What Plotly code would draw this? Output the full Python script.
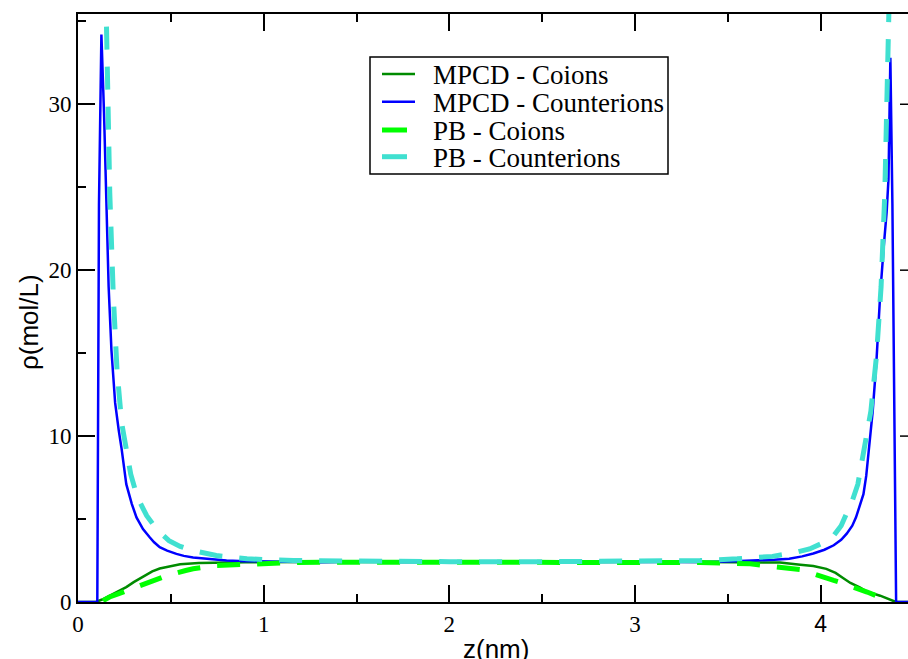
import plotly.graph_objects as go

# ---------------- data ----------------
mpcd_counter_x = [0.0, 0.100, 0.104, 0.113, 0.126, 0.140, 0.153, 0.165, 0.180, 0.200, 0.220, 0.234,
                  0.260, 0.290, 0.315, 0.350, 0.386, 0.410, 0.440, 0.480, 0.530, 0.570, 0.620,
                  0.700, 0.800, 0.900, 0.980, 1.10, 1.30, 1.50, 1.70, 1.90, 2.10, 2.30, 2.50,
                  2.70, 2.90, 3.10, 3.35, 3.50, 3.60, 3.67, 3.75, 3.83, 3.90, 3.96, 4.02, 4.07,
                  4.11, 4.14, 4.17, 4.19, 4.21, 4.23, 4.245, 4.26, 4.28, 4.30, 4.32, 4.34, 4.355,
                  4.365, 4.375, 4.386, 4.396, 4.406, 4.47]
mpcd_counter_y = [0.0, 0.0, 0.0, 24.0, 34.2, 29.5, 24.2, 19.0, 15.2, 12.0, 10.3, 9.3,
                  7.1, 5.9, 5.1, 4.4, 3.9, 3.6, 3.3, 3.1, 2.9, 2.78, 2.68,
                  2.58, 2.50, 2.46, 2.44, 2.43, 2.40, 2.44, 2.41, 2.43, 2.40, 2.42, 2.41,
                  2.43, 2.40, 2.42, 2.41, 2.44, 2.47, 2.51, 2.55, 2.61, 2.75, 2.92, 3.15, 3.42,
                  3.75, 4.12, 4.60, 5.10, 5.80, 6.50, 7.60, 9.10, 11.5, 14.5, 18.5, 21.5, 23.5,
                  25.5, 32.8, 24.0, 10.0, 0.0, 0.0]

mpcd_co_x = [0.0, 0.097, 0.13, 0.19, 0.23, 0.26, 0.30, 0.35, 0.40, 0.44, 0.50, 0.55, 0.65,
             0.75, 0.90, 1.20, 1.60, 2.00, 2.40, 2.80, 3.20, 3.50, 3.71, 3.78, 3.89, 3.96,
             4.03, 4.08, 4.12, 4.16, 4.21, 4.25, 4.32, 4.39, 4.405, 4.47]
mpcd_co_y = [0.0, 0.0, 0.15, 0.50, 0.70, 0.90, 1.20, 1.55, 1.85, 2.02, 2.18, 2.27, 2.35,
             2.38, 2.40, 2.41, 2.40, 2.41, 2.40, 2.41, 2.42, 2.42, 2.41, 2.38, 2.25, 2.17,
             2.00, 1.75, 1.45, 1.15, 0.88, 0.62, 0.38, 0.10, 0.0, 0.0]

pb_co_x = [0.135, 0.144, 0.17, 0.22, 0.28, 0.37, 0.48, 0.58, 0.62, 0.745, 0.91, 1.16, 1.50,
           2.00, 2.50, 3.00, 3.35, 3.62, 3.83, 3.89, 4.07, 4.10, 4.25, 4.30, 4.35, 4.38]
pb_co_y = [0.08, 0.14, 0.30, 0.50, 0.75, 1.10, 1.60, 1.90, 2.00, 2.20, 2.30, 2.38, 2.40,
           2.41, 2.41, 2.40, 2.38, 2.30, 2.02, 1.95, 1.30, 1.20, 0.60, 0.35, 0.15, 0.05]

pb_counter_x = [0.145, 0.153, 0.162, 0.171, 0.19, 0.21, 0.235, 0.26, 0.284, 0.32, 0.37, 0.43,
                0.49, 0.55, 0.62, 0.745, 0.91, 1.16, 1.50, 2.00, 2.50, 3.00, 3.35, 3.55, 3.74,
                3.85, 3.94, 4.01, 4.07, 4.11, 4.14, 4.17, 4.20, 4.23, 4.245, 4.27, 4.30, 4.325,
                4.345, 4.357, 4.366, 4.375]
pb_counter_y = [39.5, 34.3, 29.3, 24.7, 18.5, 14.0, 10.8, 9.0, 7.7, 6.3, 5.2, 4.3,
                3.7, 3.35, 3.1, 2.8, 2.6, 2.5, 2.45, 2.43, 2.43, 2.45, 2.5, 2.6, 2.75,
                2.95, 3.2, 3.55, 4.0, 4.6, 5.3, 6.1, 7.1, 9.1, 10.0, 11.5, 14.8, 19.0,
                24.6, 29.0, 33.8, 39.5]

series_names = ["MPCD - Coions", "MPCD - Counterions", "PB - Coions", "PB - Counterions"]
x_tickvals = [0, 1, 2, 3, 4]
x_ticklabels = ["0", "1", "2", "3", "4"]
y_tickvals = [0, 10, 20, 30]
y_ticklabels = ["0", "10", "20", "30"]
x_title = "z(nm)"
y_title = "ρ(mol/L)"

# ---------------- styles ----------------
C_DKGREEN = "#008b00"
C_BLUE = "#0000ff"
C_LIME = "#00ff00"
C_TURQ = "#40e0d0"
DASH = "23px,17px"
SERIF = "Liberation Serif"
SANS = "Liberation Sans"
x_tickfonts = [SERIF, SERIF, SERIF, SERIF, SANS]


def styled(t, fam):
    return "<span style='font-family:%s'>%s</span>" % (fam, t)


x_ticktext = [styled(t, f) for t, f in zip(x_ticklabels, x_tickfonts)]
y_ticktext = [styled(t, SERIF) for t in y_ticklabels]

W, H = 908, 659
ML, MR, MT, MB = 78, 0, 14, 57
PW = W - ML - MR
PH = H - MT - MB


def px(xp):
    return (xp - ML) / PW


def py(yp):
    return (H - MB - yp) / PH


fig = go.Figure()
fig.add_trace(go.Scatter(x=mpcd_co_x, y=mpcd_co_y, mode="lines", name=series_names[0],
                         line=dict(color=C_DKGREEN, width=2.5)))
fig.add_trace(go.Scatter(x=mpcd_counter_x, y=mpcd_counter_y, mode="lines", name=series_names[1],
                         line=dict(color=C_BLUE, width=2.5)))
fig.add_trace(go.Scatter(x=pb_co_x, y=pb_co_y, mode="lines", name=series_names[2],
                         line=dict(color=C_LIME, width=5, dash=DASH)))
fig.add_trace(go.Scatter(x=pb_counter_x, y=pb_counter_y, mode="lines", name=series_names[3],
                         line=dict(color=C_TURQ, width=5, dash=DASH)))

axis_common = dict(
    showgrid=False, zeroline=False, showline=True, linecolor="black", linewidth=2,
    ticks="inside", ticklen=17, tickwidth=1.5, tickcolor="black",
    tickfont=dict(family=SERIF, size=23, color="black"),
)
fig.update_xaxes(range=[0, 4.47], tickmode="array", tickvals=x_tickvals, ticktext=x_ticktext,
                 mirror="ticks",
                 minor=dict(ticks="inside", ticklen=8, dtick=0.5, tick0=0, tickwidth=1.5,
                            tickcolor="black"),
                 **axis_common)
fig.update_yaxes(range=[0, 35.44], tickmode="array", tickvals=y_tickvals, ticktext=y_ticktext,
                 mirror=False,
                 minor=dict(ticks="inside", ticklen=8, dtick=5, tick0=0, tickwidth=1.5,
                            tickcolor="black"),
                 **axis_common)

annotations = [
    dict(text=x_title, x=px(496), y=py(649), xref="paper", yref="paper", showarrow=False,
         xanchor="center", yanchor="middle", font=dict(family=SANS, size=26, color="black")),
    dict(text=y_title, x=px(29), y=py(322), xref="paper", yref="paper", showarrow=False,
         textangle=-90, xanchor="center", yanchor="middle",
         font=dict(family=SANS, size=26, color="black")),
]

shapes = []
# stubs of the right-hand frame's major ticks (frame itself lies just past the window edge)
for v in y_tickvals[1:]:
    shapes.append(dict(type="line", xref="paper", yref="y", x0=px(900), x1=1, y0=v, y1=v,
                       line=dict(color="black", width=1.5)))

# manual legend
shapes.append(dict(type="rect", xref="paper", yref="paper", x0=px(370), x1=px(668), y0=py(174),
                   y1=py(57), line=dict(color="black", width=1.5), fillcolor="white", layer="above"))
rows = [74, 101.7, 130, 156.7]
colors = [C_DKGREEN, C_BLUE, C_LIME, C_TURQ]
widths = [2.5, 2.5, 5, 5]
ends = [415, 415, 407, 407]
for i in range(4):
    shapes.append(dict(type="line", xref="paper", yref="paper", x0=px(382), x1=px(ends[i]),
                       y0=py(rows[i]), y1=py(rows[i]), line=dict(color=colors[i], width=widths[i]),
                       layer="above"))
    annotations.append(dict(text=series_names[i], x=px(431), y=py(rows[i] + 1), xref="paper",
                            yref="paper", showarrow=False, xanchor="left", yanchor="middle",
                            font=dict(family=SERIF, size=27, color="black")))

fig.update_layout(
    width=W, height=H, margin=dict(l=ML, r=MR, t=MT, b=MB, pad=0),
    paper_bgcolor="white", plot_bgcolor="white", showlegend=False,
    font=dict(family=SERIF, size=23, color="black"),
    shapes=shapes, annotations=annotations,
)

fig.write_html("out.html", config={"displayModeBar": False},
               post_script="document.body.style.margin='0';document.body.style.overflow='hidden';")
